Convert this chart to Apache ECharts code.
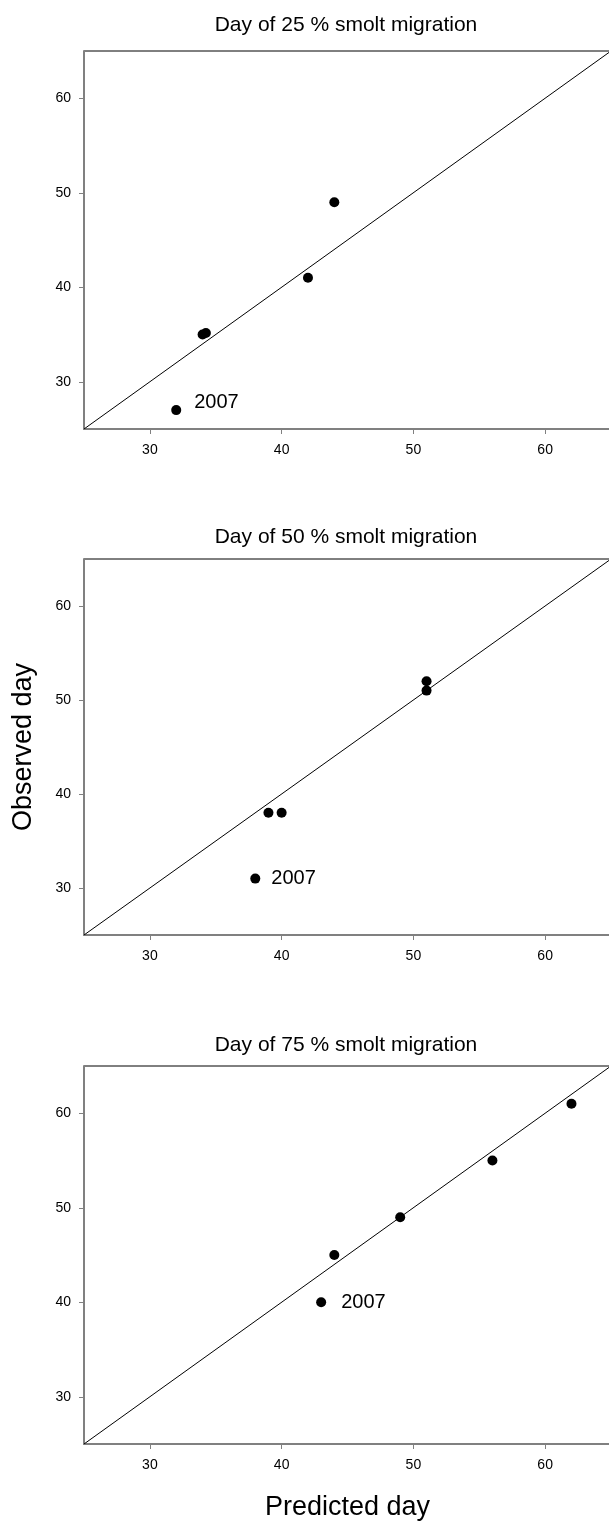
<!DOCTYPE html>
<html>
<head>
<meta charset="utf-8">
<script src="https://cdn.jsdelivr.net/npm/echarts@6/dist/echarts.min.js"></script>
<style>
  html, body { margin: 0; padding: 0; background: #fff; }
  #chart { width: 609px; height: 1524px; }
</style>
</head>
<body>
<div id="chart"></div>
<script>
// panel titles
var titles = ['Day of 25 % smolt migration', 'Day of 50 % smolt migration', 'Day of 75 % smolt migration'];

// predicted (x) and observed (y) day, first point of each panel is 2007
var predicted25 = [32, 34, 34.25, 42, 44];
var observed25  = [27, 35, 35.15, 41, 49];
var predicted50 = [38, 39, 40, 51, 51];
var observed50  = [31, 38, 38, 51, 52];
var predicted75 = [43, 44, 49, 56, 62];
var observed75  = [40, 45, 49, 55, 61];
var yearLabel = '2007';

// axes
var axisMin = 25, axisMax = 65;
var tickValues = [30, 40, 50, 60];
var lineEnds = [25, 65];

var predicted = [predicted25, predicted50, predicted75];
var observed = [observed25, observed50, observed75];

var font = '"Liberation Sans", Arial, sans-serif';
var gridTops = [51, 559, 1066];
var gridHeights = [378, 376, 378];
var titleTops = [10, 522, 1030];
var labelOffsets = [[3, -8], [1, 0], [5, 0]];

var grids = [], xAxes = [], yAxes = [], series = [], titleList = [];

for (var i = 0; i < 3; i++) {
    grids.push({
        left: 84, top: gridTops[i], width: 527, height: gridHeights[i],
        outerBoundsMode: 'none', containLabel: false,
        show: true, borderColor: '#000', borderWidth: 1, backgroundColor: 'transparent'
    });
    titleList.push({
        text: titles[i], left: 341, top: titleTops[i], textAlign: 'center',
        textStyle: { fontFamily: font, fontSize: 21, fontWeight: 'normal', color: '#000' }
    });
    var axisCommon = {
        type: 'value', gridIndex: i, min: axisMin, max: axisMax,
        splitLine: { show: false },
        axisLine: { show: true, lineStyle: { color: '#808080', width: 2 } },
        axisTick: { show: true, length: 5, lineStyle: { color: '#808080', width: 1 }, customValues: tickValues },
        axisLabel: { fontFamily: font, fontSize: 14, color: '#000', customValues: tickValues }
    };
    var xa = Object.assign({}, axisCommon, {
        axisLabel: Object.assign({}, axisCommon.axisLabel, { margin: 14 })
    });
    var ya = Object.assign({}, axisCommon, {
        axisLabel: Object.assign({}, axisCommon.axisLabel, { margin: 13 })
    });
    if (i === 2) {
        xa.name = 'Predicted day';
        xa.nameLocation = 'middle';
        xa.nameGap = 50;
        xa.nameTextStyle = { fontFamily: font, fontSize: 27, color: '#000' };
    }
    if (i === 1) {
        ya.name = 'Observed day';
        ya.nameLocation = 'middle';
        ya.nameGap = 47;
        ya.nameTextStyle = { fontFamily: font, fontSize: 27, color: '#000' };
    }
    xAxes.push(xa);
    yAxes.push(ya);

    // 1:1 line
    series.push({
        type: 'line', xAxisIndex: i, yAxisIndex: i,
        data: [[lineEnds[0], lineEnds[0]], [lineEnds[1], lineEnds[1]]],
        symbol: 'none', silent: true,
        lineStyle: { color: '#000', width: 1 }
    });

    var pts = [];
    for (var k = 0; k < predicted[i].length; k++) {
        var p = { value: [predicted[i][k], observed[i][k]] };
        if (k === 0) {
            p.label = {
                show: true, position: 'right', distance: 10,
                offset: labelOffsets[i],
                formatter: yearLabel,
                fontFamily: font, fontSize: 20, color: '#000', opacity: 1
            };
        }
        pts.push(p);
    }
    series.push({
        type: 'scatter', xAxisIndex: i, yAxisIndex: i,
        symbol: 'circle', symbolSize: 10,
        itemStyle: { color: '#000', opacity: 1 },
        data: pts
    });
}

var chart = echarts.init(document.getElementById('chart'));
chart.setOption({
    animation: false,
    backgroundColor: '#fff',
    title: titleList,
    grid: grids,
    xAxis: xAxes,
    yAxis: yAxes,
    series: series
});
</script>
</body>
</html>
